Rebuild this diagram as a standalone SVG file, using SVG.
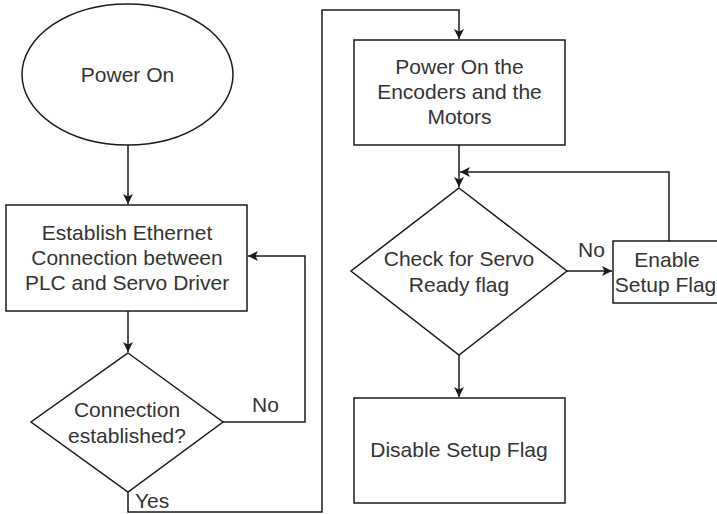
<svg xmlns="http://www.w3.org/2000/svg" width="717" height="514" viewBox="0 0 717 514">
  <style>
    .shape { fill: #ffffff; stroke: #1a1a1a; stroke-width: 1.5; }
    .wire { fill: none; stroke: #1a1a1a; stroke-width: 1.5; }
    text { font-family: "Liberation Sans", Arial, sans-serif; font-size: 21px; fill: #333333; }
    .c { text-anchor: middle; }
  </style>
  <defs>
    <marker id="arrow" viewBox="0 0 10 10" refX="10" refY="5" markerWidth="10" markerHeight="10" markerUnits="userSpaceOnUse" orient="auto">
      <path d="M0,0 L10,5 L0,10 L2.5,5 Z" fill="#1a1a1a"/>
    </marker>
  </defs>
  <rect width="717" height="514" fill="#ffffff"/>

  <g id="connectors">
    <path class="wire" d="M128,145 L128,204" marker-end="url(#arrow)"/>
    <path class="wire" d="M128,311 L128,352" marker-end="url(#arrow)"/>
    <path class="wire" d="M223,422 L305,422 L305,256 L248,256" marker-end="url(#arrow)"/>
    <path class="wire" d="M128,492 L128,512 L322,512 L322,10 L459,10 L459,39" marker-end="url(#arrow)"/>
    <path class="wire" d="M459,145 L459,187" marker-end="url(#arrow)"/>
    <path class="wire" d="M567,271 L612,271" marker-end="url(#arrow)"/>
    <path class="wire" d="M669,241 L669,172 L460,172" marker-end="url(#arrow)"/>
    <path class="wire" d="M459,355 L459,397" marker-end="url(#arrow)"/>
  </g>

  <g id="power-on">
    <ellipse class="shape" cx="127.5" cy="74.5" rx="105.5" ry="70.5"/>
    <text class="c" x="127.5" y="82">Power On</text>
  </g>

  <g id="establish-connection">
    <rect class="shape" x="6" y="205" width="241" height="106"/>
    <text class="c" x="127" y="240">Establish Ethernet</text>
    <text class="c" x="127" y="265">Connection between</text>
    <text class="c" x="127" y="290">PLC and Servo Driver</text>
  </g>

  <g id="connection-check">
    <polygon class="shape" points="128,353 223,422 128,492 31,422"/>
    <text class="c" x="127" y="417">Connection</text>
    <text class="c" x="127" y="443">established?</text>
  </g>

  <g id="label-no-1">
    <text x="252" y="412">No</text>
  </g>
  <g id="label-yes">
    <text x="135" y="508">Yes</text>
  </g>

  <g id="power-on-motors">
    <rect class="shape" x="354" y="40" width="211" height="105"/>
    <text class="c" x="459.5" y="74">Power On the</text>
    <text class="c" x="459.5" y="99">Encoders and the</text>
    <text class="c" x="459.5" y="124">Motors</text>
  </g>

  <g id="servo-ready-check">
    <polygon class="shape" points="459,188 567,271 459,355 351,271"/>
    <text class="c" x="459" y="266">Check for Servo</text>
    <text class="c" x="459" y="292">Ready flag</text>
  </g>

  <g id="label-no-2">
    <text x="578" y="257">No</text>
  </g>

  <g id="enable-setup-flag">
    <rect class="shape" x="613" y="241" width="112" height="62"/>
    <text class="c" x="667" y="267">Enable</text>
    <text class="c" x="665.5" y="292">Setup Flag</text>
  </g>

  <g id="disable-setup-flag">
    <rect class="shape" x="354" y="398" width="211" height="105"/>
    <text class="c" x="459" y="457">Disable Setup Flag</text>
  </g>
</svg>
